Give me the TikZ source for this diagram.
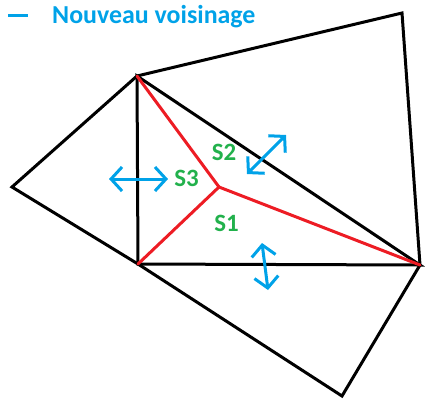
\documentclass[tikz,border=0pt]{standalone}
\usepackage{fontspec}
\setmainfont{Carlito}
\usetikzlibrary{arrows.meta}
\definecolor{pblue}{HTML}{00A2E8}
\definecolor{pgreen}{HTML}{22B14C}
\definecolor{pred}{HTML}{ED1C24}
\begin{document}
\begin{tikzpicture}[x=1bp,y=-1bp,
  edge/.style={draw=black,line width=3bp,line join=miter,line cap=round},
  redge/.style={draw=pred,line width=3bp,line cap=round},
  dbl/.style={draw=pblue,line width=3bp,{Straight Barb[length=11bp,width=24bp,line width=3bp]}-{Straight Barb[length=11bp,width=24bp,line width=3bp]}},
  lab/.style={text=pgreen,font=\bfseries\fontsize{25}{25}\selectfont,inner sep=0pt},
  leg/.style={text=pblue,font=\bfseries\fontsize{26}{26}\selectfont,inner sep=0pt,anchor=base west}]
\useasboundingbox (0,0) rectangle (437,414);
\coordinate (A) at (137,76);
\coordinate (B) at (138,264);
\coordinate (C) at (420,265);
\coordinate (D) at (12,187);
\coordinate (E) at (402,13);
\coordinate (F) at (342,396);
\coordinate (P) at (219,187);
% outer polygons
\draw[edge] (A) -- (D) -- (B);
\draw[edge] (A) -- (E) -- (C);
\draw[edge] (B) -- (F) -- (C);
\draw[edge] (A) -- (B) -- (C) -- cycle;
% red
\draw[redge] (P) -- (A);
\draw[redge] (P) -- (B);
\draw[redge] (P) -- (C);
% arrows
\coordinate (h1) at (109,179);
\coordinate (h2) at (168,179);
\coordinate (d1) at (247,174);
\coordinate (d2) at (286,135);
\coordinate (v1) at (262,243);
\coordinate (v2) at (268,290);
\draw[dbl] (h1) -- (h2);
\draw[dbl] (d1) -- (d2);
\draw[dbl] (v1) -- (v2);
% labels
\node[lab] (s3) at (186.5,178.5) {S3};
\node[lab] (s2) at (224,152.5) {S2};
\node[lab] (s1) at (226.5,223.5) {S1};
% legend
\coordinate (l1) at (8,15);
\coordinate (l2) at (28,15);
\draw[draw=pblue,line width=3bp] (l1) -- (l2);
\node[leg] (legt) at (52,23) {Nouveau voisinage};
\end{tikzpicture}
\end{document}
